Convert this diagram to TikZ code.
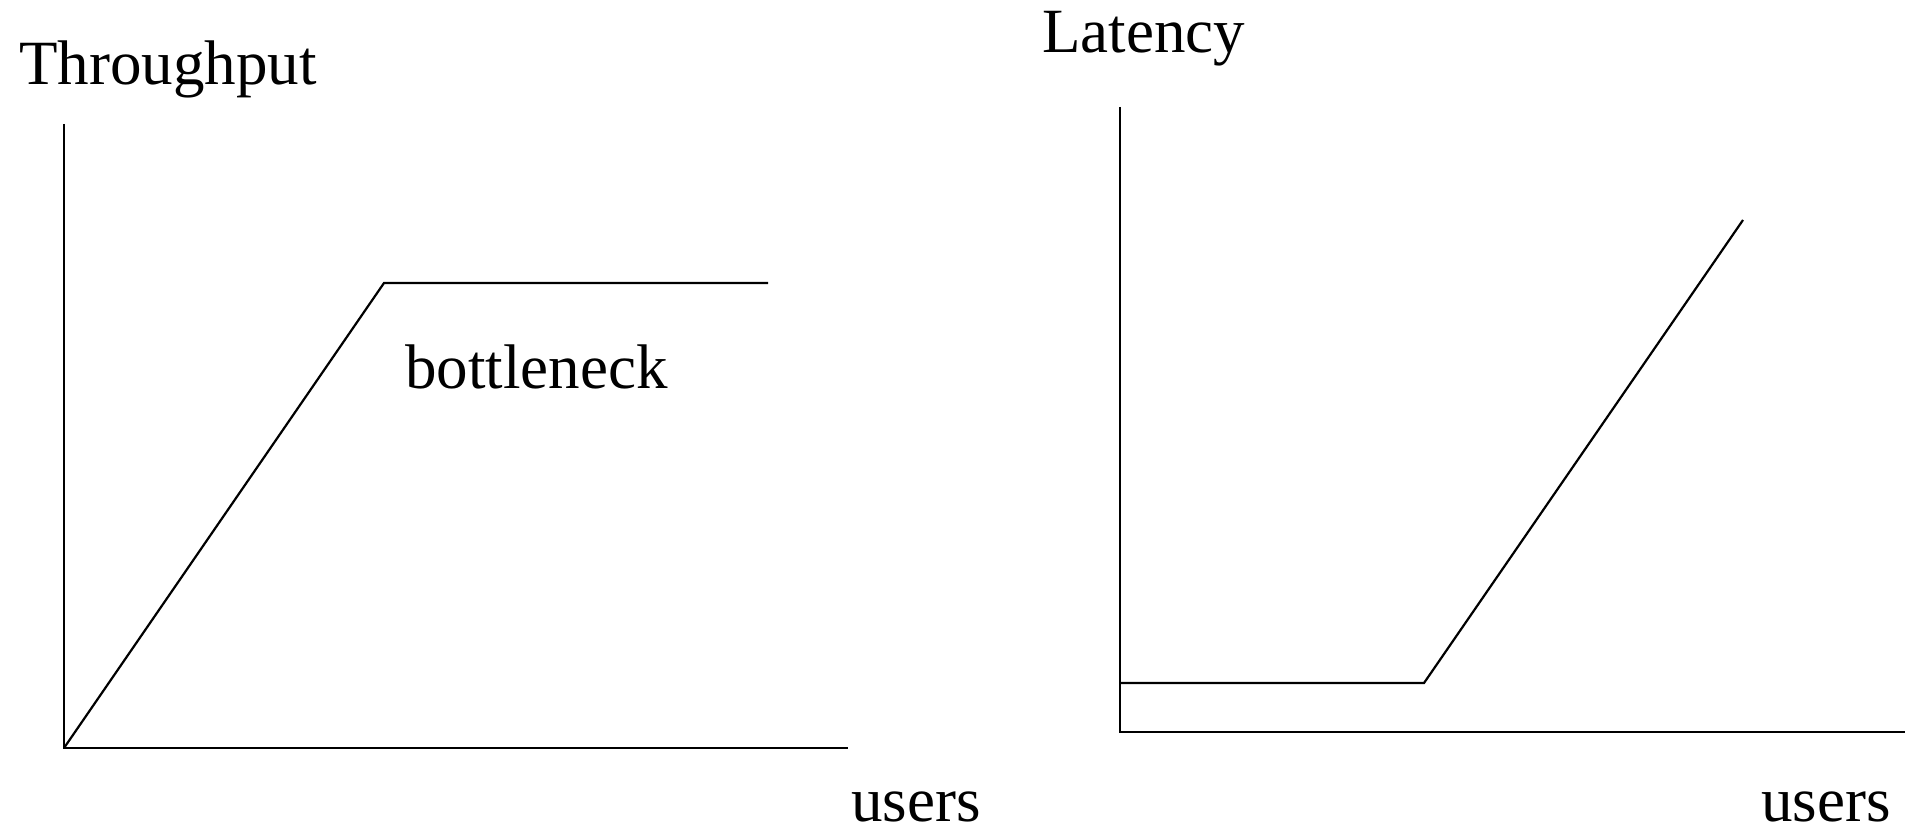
\documentclass[tikz,border=0pt]{standalone}
\usepackage{fontspec}
\setmainfont{Liberation Serif}
\begin{document}
\begin{tikzpicture}[x=1pt,y=-1pt,
  axisline/.style={line width=2.2pt},
  curveline/.style={line width=2.2pt, line join=miter},
  lbl/.style={inner sep=0pt, anchor=base west, font=\fontsize{63}{70}\selectfont}]
\useasboundingbox (0,0) rectangle (1905,826);

% Throughput chart
\coordinate (o1) at (64,748);
\coordinate (y1) at (64,124);
\coordinate (x1) at (848,748);
\coordinate (k1) at (384,283);
\coordinate (e1) at (768,283);
\draw[axisline] (y1) -- (o1) -- (x1);
\draw[curveline] (o1) -- (k1) -- (e1);
\node[lbl] (tput) at (19,85) {Throughput};
\node[lbl] (neck) at (405,388) {bottleneck};
\node[lbl] (users1) at (851,821) {users};

% Latency chart
\coordinate (o2) at (1120,732);
\coordinate (y2) at (1120,107);
\coordinate (x2) at (1905,732);
\coordinate (s2) at (1120,683);
\coordinate (k2) at (1424,683);
\coordinate (e2) at (1743,220);
\draw[axisline] (y2) -- (o2) -- (x2);
\draw[curveline] (s2) -- (k2) -- (e2);
\node[lbl] (lat) at (1042,53) {Latency};
\node[lbl] (users2) at (1761,821) {users};
\end{tikzpicture}
\end{document}
